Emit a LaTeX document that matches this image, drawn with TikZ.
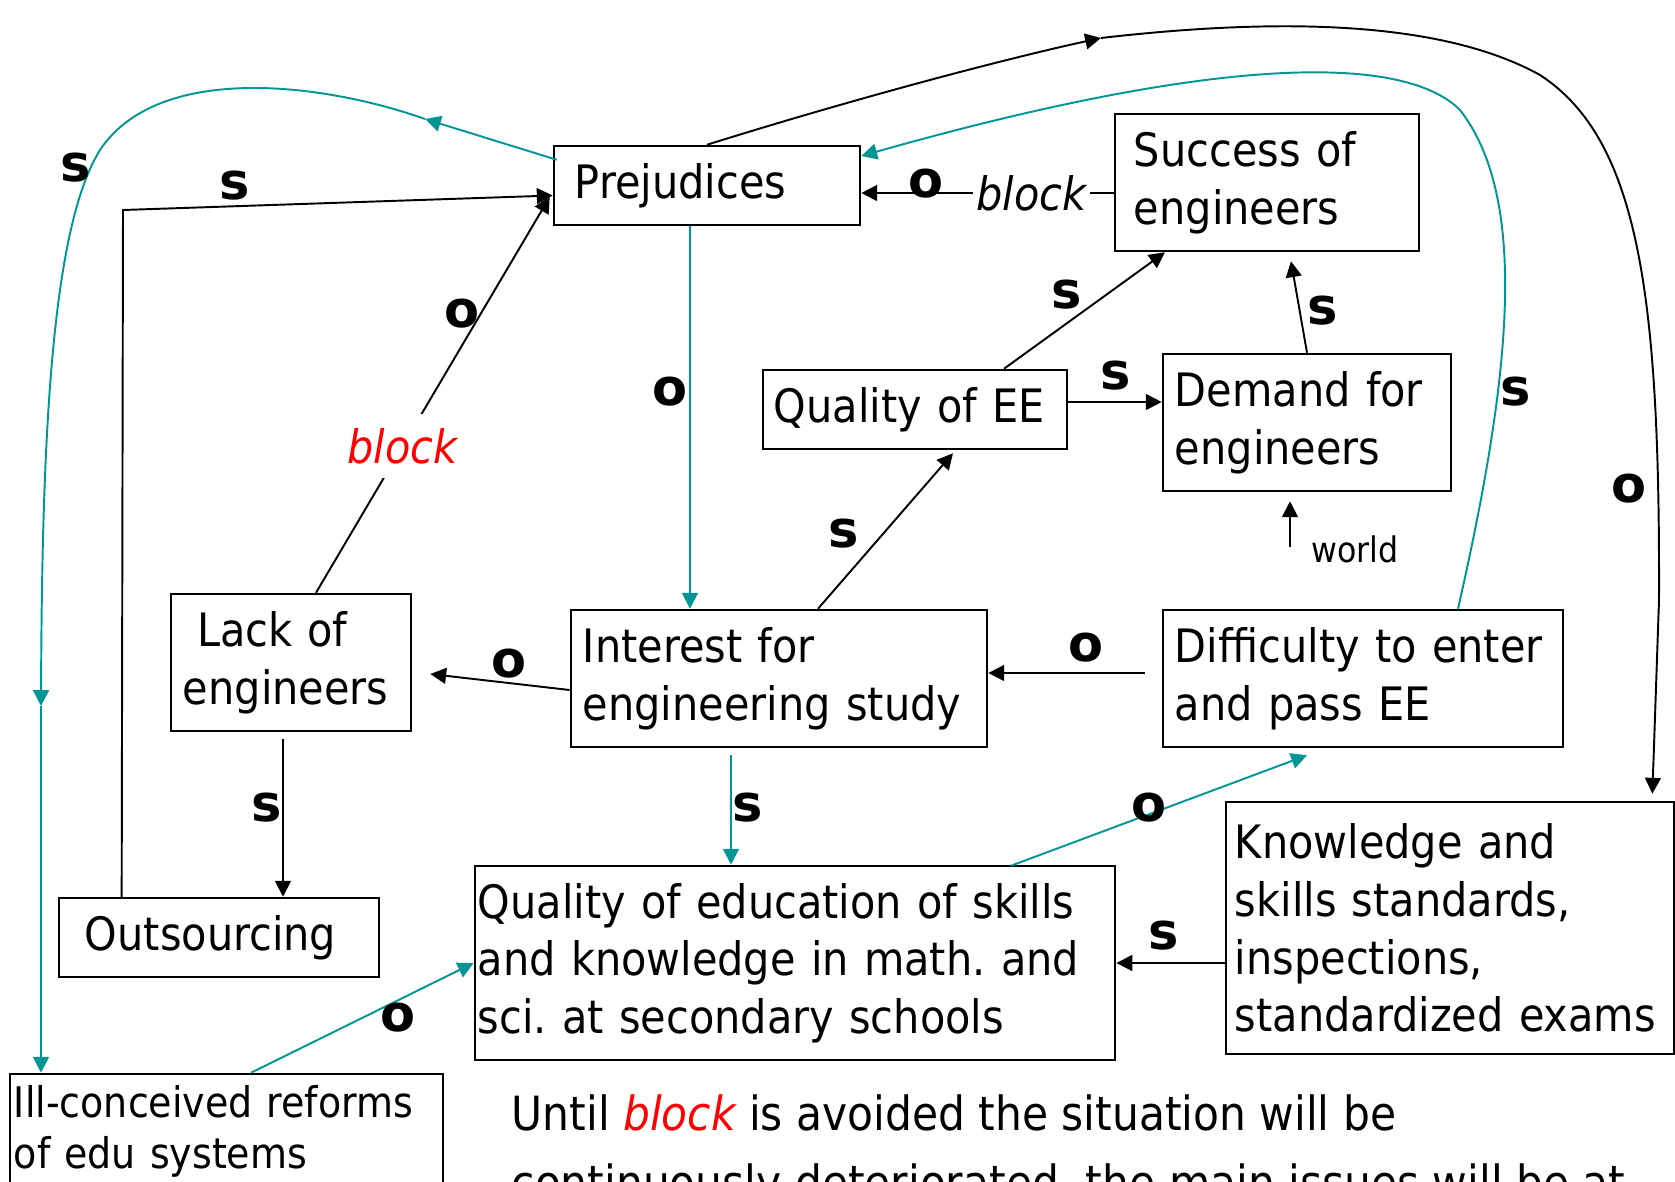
\documentclass[tikz,border=0pt]{standalone}
\usepackage{fontspec}
\setmainfont{DejaVu Sans Condensed}
\newfontfamily\lblfont{DejaVu Sans}
\usepackage{tikz}
\usetikzlibrary{arrows.meta,calc}
\definecolor{tealc}{RGB}{0,150,150}

\tikzset{
	box/.style={draw, line width=0.7pt, inner sep=0pt, align=left, font=\fontsize{13.1}{16.4}\selectfont},
	lbl/.style={inner sep=0pt, font=\lblfont\bfseries\fontsize{14.5}{15}\selectfont},
	link/.style={line width=0.55pt, -{Triangle[length=4.5pt,width=4.5pt]}},
	tlink/.style={link, color=tealc},
	blocklbl/.style={fill=white, inner xsep=1pt, inner ysep=4pt, font=\fontsize{13.1}{16.4}\selectfont\itshape},
}

\begin{document}
\frenchspacing
\begin{tikzpicture}[x=0.01cm, y=-0.01cm]
	
	\useasboundingbox (0,0) rectangle (1675,1181);
	\clip (0,0) rectangle (1675,1181);
	
	\node[box, minimum width=3.06cm, minimum height=0.79cm, text width=2.64cm] (prej) at (707,185.5) {Prejudices};
	\node[box, minimum width=3.04cm, minimum height=1.37cm, text width=2.66cm] (succ) at (1267,182.5) {Success of\\engineers};
	\node[box, minimum width=3.04cm, minimum height=0.79cm, text width=2.82cm] (qee) at (915,409.5) {Quality of EE};
	\node[box, minimum width=2.88cm, minimum height=1.37cm, text width=2.64cm] (dem) at (1307,422.5) {Demand for\\engineers};
	\node[box, minimum width=2.40cm, minimum height=1.37cm, text width=2.16cm] (lack) at (291,662.5) {\hspace*{4pt}Lack of\\engineers};
	\node[box, minimum width=4.16cm, minimum height=1.37cm, text width=3.92cm] (inter) at (779,678.5) {Interest for\\engineering study};
	\node[box, minimum width=4.00cm, minimum height=1.37cm, text width=3.76cm] (diff) at (1363,678.5) {Difficulty to enter\\and pass EE};
	\node[box, minimum width=3.20cm, minimum height=0.79cm, text width=2.68cm] (outs) at (219,937.5) {Outsourcing};
	\node[box, minimum width=6.40cm, minimum height=1.94cm, text width=6.34cm] (qedu) at (795,963) {Quality of education of skills\\and knowledge in math. and\\sci. at secondary schools};
	\node[box, minimum width=4.48cm, minimum height=2.52cm, text width=4.30cm] (know) at (1450,928) {Knowledge and\\skills standards,\\inspections,\\standardized exams};
	\node[box, minimum width=4.33cm, minimum height=1.14cm, text width=4.25cm, font=\fontsize{12}{14.5}\selectfont] (ill) at (226.5,1131) {Ill-conceived reforms\\of edu systems};
	
	\node[anchor=base west, inner sep=0pt, align=left, font=\fontsize{13.4}{19.6}\selectfont] (note) at (511,1199) {Until \textcolor{red}{\itshape block} is avoided the situation will be\\continuously deteriorated, the main issues will be at};
	
	% outer loops
	\coordinate (topmid) at (1101,38);
	\draw[link] (prej.north) .. controls (850,100) and (1000,60) .. (topmid);
	\draw[link] (topmid) .. controls (1300,15) and (1450,25) .. (1540,75) .. controls (1640,140) and (1660,300) .. (1659,600) -- ($(know.north east)+(-23,-7)$);
	
	\draw[tlink] ($(diff.north)+(95,0)$) .. controls (1510,380) and (1530,200) .. (1460,110) .. controls (1400,50) and (1200,60) .. ($(prej.east)+(0,-29.5)$);
	
	\coordinate (tl1) at (425,119);
	\coordinate (tl2) at (41,706);
	\draw[tlink] ($(prej.north west)+(4,15)$) -- (tl1);
	\draw[tlink] (tl1) .. controls (330,85) and (160,60) .. (100,150) .. controls (50,230) and (42,450) .. (tl2);
	\draw[tlink] (tl2) -- (tl2 |- ill.north);
	
	% inner links
	\coordinate (outsup) at (123,210);
	\draw[link] ($(outs.north west)+(64,0)$) -- (outsup) -- ($(prej.west)+(0,10)$);
	\draw[link] ($(lack.north)+(25,0)$) -- node[blocklbl, pos=0.37, text=red] (blk1) {block} ($(prej.west)+(-3,11.5)$);
	\draw[tlink] ($(prej.south)+(-17,0)$) -- ($(inter.north)+(-89,0)$);
	\draw[link] ($(succ.west)+(0,10.5)$) -- node[blocklbl, pos=0.325] (blk2) {block} ($(prej.east)+(0,7.5)$);
	\draw[link] ($(qee.north)+(89,0)$) -- ($(succ.south)+(-102,0)$);
	\draw[link] (dem.north) -- ($(succ.south)+(24,9)$);
	\draw[link] ($(qee.east)+(0,-7.5)$) -- ($(dem.west)+(0,-20.5)$);
	\draw[link] ($(inter.north)+(39,0)$) -- ($(qee.south)+(38,3)$);
	\draw[link] ($(inter.west)+(0,11.5)$) -- ($(lack.east)+(18,11.5)$);
	\draw[link] ($(diff.west)+(-17,-5.5)$) -- ($(inter.east)+(0,-5.5)$);
	\draw[link] ($(lack.south)+(-8,7)$) -- ($(outs.north)+(64,0)$);
	\draw[tlink] ($(inter.south)+(-48,7)$) -- ($(qedu.north)+(-64,0)$);
	\draw[tlink] ($(qedu.north)+(216,1)$) -- ($(diff.south)+(-56,7)$);
	\draw[link] (know.west |- qedu.east) -- (qedu.east);
	\draw[tlink] ($(ill.north)+(24.5,0)$) -- (qedu.west);
	
	\node[anchor=base, inner sep=0pt, font=\fontsize{10}{12}\selectfont] (world) at (1355,562) {world};
	\coordinate (worldtail) at (1290,547);
	\draw[link] (worldtail) -- ($(dem.south)+(-17,9)$);
	
	% s / o marks
	\node[lbl] (m1) at (76,168) {s};
	\node[lbl] (m2) at (235,186) {s};
	\node[lbl] (m3) at (462,314) {o};
	\node[lbl] (m4) at (670,392) {o};
	\node[lbl] (m5) at (926,184) {o};
	\node[lbl] (m6) at (1067,295) {s};
	\node[lbl] (m7) at (1323,311) {s};
	\node[lbl] (m8) at (1116,376) {s};
	\node[lbl] (m9) at (1516,392) {s};
	\node[lbl] (m10) at (1629,489) {o};
	\node[lbl] (m11) at (844,534) {s};
	\node[lbl] (m12) at (509,664) {o};
	\node[lbl] (m13) at (1086,648) {o};
	\node[lbl] (m14) at (267,808) {s};
	\node[lbl] (m15) at (748,808) {s};
	\node[lbl] (m16) at (1149,808) {o};
	\node[lbl] (m17) at (1164,936) {s};
	\node[lbl] (m18) at (398,1018) {o};
	
\end{tikzpicture}
\end{document}
